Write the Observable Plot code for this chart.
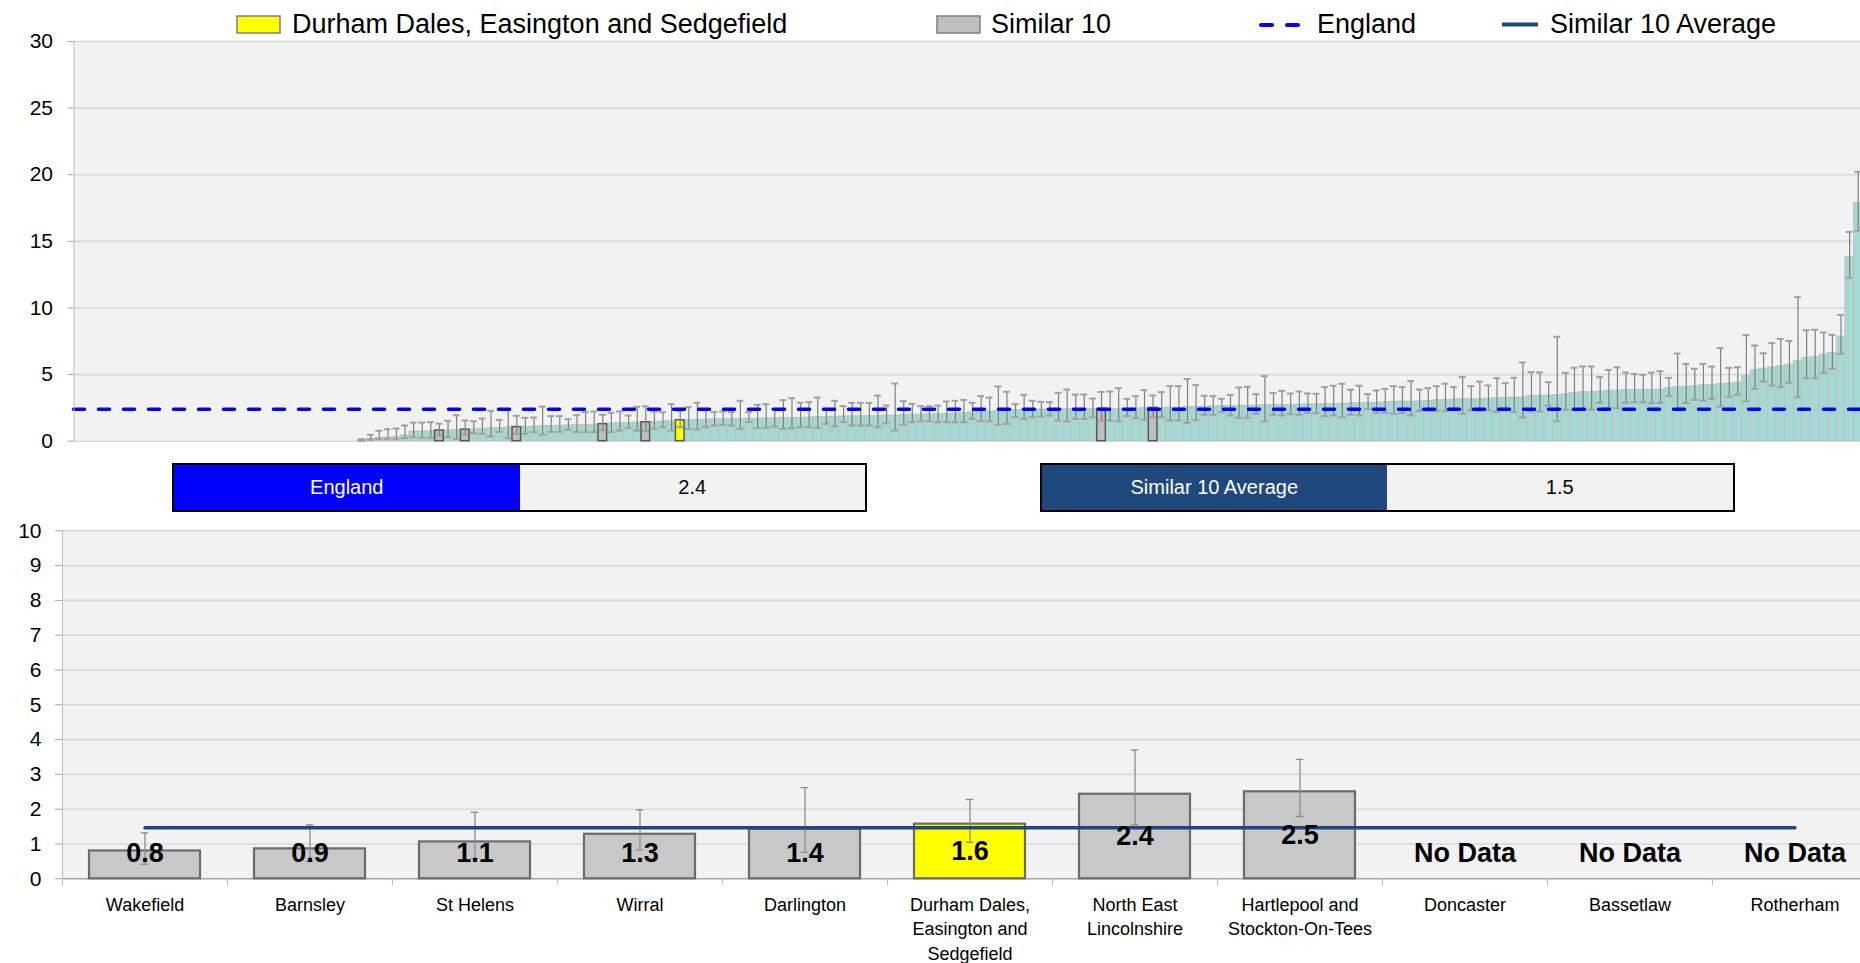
<!DOCTYPE html>
<html>
<head>
<meta charset="utf-8">
<script src="https://cdn.jsdelivr.net/npm/d3@7"></script>
<script src="https://cdn.jsdelivr.net/npm/@observablehq/plot@0.6"></script>
<style>
html, body { margin:0; padding:0; background:#fff; overflow:hidden; width:1860px; height:963px; }
body { position:relative; font-family:"Liberation Sans", Arial, sans-serif; }
#legend { position:absolute; left:0; top:0; }
#top { position:absolute; left:0; top:29px; width:1900px; }
#bottom { position:absolute; left:0; top:518px; width:1900px; }
#top svg, #bottom svg { max-width:none !important; }
.stat { position:absolute; box-sizing:border-box; border:2.7px solid #000; display:flex; background:#f2f2f2; }
.stat div { flex:1; display:flex; align-items:center; justify-content:center; font-size:20px; }
.stat .lab { color:#fff; }
</style>
</head>
<body>
<svg id="legend" width="1860" height="44"></svg>
<div id="top"></div>
<div class="stat" style="left:172px; top:462.5px; width:695px; height:49.5px;">
  <div class="lab" id="engLab" style="background:#0000ff;"></div><div id="engVal"></div>
</div>
<div class="stat" style="left:1039.5px; top:462.5px; width:695px; height:49.5px;">
  <div class="lab" id="avgLab" style="background:#1f497d;"></div><div id="avgVal"></div>
</div>
<div id="bottom"></div>
<script>
// ---------------- DATA ----------------
// All CCGs ranked by value (those with no data occupy the left of the ranking)
const noDataCount = 33;
const ccgRate = [
  0.1,0.18,0.25,0.28,0.3,0.43,0.73,0.73,0.74,0.8,
  0.81,0.83,0.86,0.88,0.93,0.98,1.0,1.03,1.06,1.08,1.1,1.13,1.15,1.16,1.18,1.2,1.23,1.25,1.28,
  1.33,1.36,1.38,1.4,1.42,1.45,1.48,1.52,1.57,1.58,1.6,1.62,1.65,1.66,1.67,1.68,1.7,1.7,1.72,1.73,1.74,1.75,1.76,1.78,1.8,1.82,1.84,1.86,1.87,
  1.88,1.88,1.9,1.93,1.93,1.98,2.0,2.0,2.01,2.03,2.05,2.08,2.1,2.18,2.2,2.23,2.25,2.28,2.33,2.35,2.36,2.38,2.4,2.4,2.41,2.42,2.42,2.43,2.43,
  2.44,2.44,2.45,2.46,2.48,2.5,2.5,2.53,2.53,2.55,2.58,2.6,2.62,2.63,2.65,2.65,2.67,2.68,2.7,2.72,2.73,2.74,2.75,2.76,2.77,2.78,2.8,2.82,2.84,
  2.85,2.88,2.9,2.93,2.96,2.98,2.98,3.0,3.03,3.08,3.1,3.13,3.16,3.16,3.18,3.2,3.23,3.26,3.28,3.28,3.41,3.41,3.43,3.46,3.53,3.63,3.68,3.68,3.73,
  3.8,3.8,3.85,3.85,3.85,3.85,3.88,4.0,4.05,4.1,4.13,4.2,4.23,4.3,4.33,4.4,4.9,5.33,5.45,5.55,5.63,5.75,6.05,6.26,6.33,6.51,6.63,7.86,13.84,17.89
];
const ccgLower = [
  0.03,0.1,0.18,0.18,0.18,0.23,0.3,0.25,0.25,0.42,
  0.3,0.18,0.5,0.6,0.55,0.35,0.7,0.23,0.55,0.55,0.68,0.48,0.7,0.7,0.86,0.68,0.68,0.68,0.83,
  0.68,0.8,1.0,0.8,0.76,0.93,1.05,0.8,1.05,0.93,0.88,1.05,1.18,1.23,1.18,0.93,1.43,1.0,1.0,1.1,0.93,0.98,1.05,1.05,1.0,1.3,1.1,1.43,1.18,
  1.18,1.18,1.05,1.35,0.8,1.25,1.43,1.5,1.5,1.43,1.43,1.43,1.43,1.68,1.5,1.5,1.23,1.3,1.8,1.68,1.8,1.85,1.93,1.55,1.48,1.68,1.68,1.8,1.55,
  1.55,1.48,1.88,1.73,1.63,1.79,1.8,1.55,1.55,1.38,1.58,1.98,1.98,2.18,1.93,1.75,1.75,2.05,1.48,1.98,1.93,2.03,1.98,2.13,2.1,1.88,1.93,1.8,1.98,
  1.93,2.43,2.13,2.13,2.06,2.11,1.93,2.26,2.26,2.26,2.26,2.43,2.06,2.31,2.26,2.31,2.2,2.43,2.2,1.78,2.23,2.23,2.66,1.5,2.36,2.36,2.36,2.36,2.88,
  2.5,2.48,2.88,2.93,2.93,2.85,2.88,3.4,2.43,2.88,3.1,3.05,3.18,2.6,3.35,3.48,3.0,3.93,4.48,4.18,4.05,4.38,3.3,4.73,4.73,5.13,5.43,6.56,12.26,15.79
];
const ccgUpper = [
  0.15,0.48,0.78,0.9,0.95,1.18,1.4,1.4,1.43,1.32,
  1.53,1.95,1.55,1.5,1.7,2.28,1.6,2.38,1.91,1.75,1.78,2.6,1.88,1.88,1.65,1.95,2.18,2.23,1.98,
  2.13,2.23,1.93,2.58,2.62,2.23,2.18,2.78,2.28,2.55,2.88,2.35,2.18,2.23,2.18,3.03,2.18,2.73,2.78,2.43,3.08,3.23,2.88,2.93,3.28,2.43,3.03,2.63,2.88,
  2.88,2.88,3.43,2.68,4.33,3.0,2.8,2.63,2.63,2.68,2.98,3.03,3.1,2.88,3.38,3.28,4.11,3.71,2.78,3.48,3.03,2.95,2.93,3.63,3.88,3.5,3.5,3.2,3.70,
  3.73,3.98,3.18,3.38,3.83,3.43,3.68,4.13,4.13,4.66,4.21,3.41,3.38,3.18,3.48,4.03,4.08,3.53,4.88,3.61,3.78,3.58,3.73,3.58,3.56,4.06,4.16,4.31,3.86,
  4.16,3.53,3.81,3.93,4.13,4.06,4.51,3.88,3.98,4.13,4.31,4.06,4.81,4.13,4.48,4.18,4.73,4.36,4.76,5.91,5.18,5.16,4.43,7.84,5.13,5.51,5.61,5.61,4.81,
  5.35,5.55,5.15,5.05,4.98,5.15,5.25,4.75,6.58,5.8,5.43,5.8,5.6,6.98,5.5,5.55,7.96,7.18,6.6,7.36,7.68,7.53,10.81,8.33,8.36,8.16,7.98,9.48,15.71,20.22
];
const englandValue = 2.4;
const similarAverage = 1.47;
const focusName = "Durham Dales, Easington and Sedgefield";
const similarNames = ["Wakefield","Barnsley","St Helens","Wirral","Darlington",
  "Durham Dales, Easington and Sedgefield","North East Lincolnshire",
  "Hartlepool and Stockton-On-Tees","Doncaster","Bassetlaw","Rotherham"];
const similarLabels = ["Wakefield","Barnsley","St Helens","Wirral","Darlington",
  "Durham Dales,\nEasington and\nSedgefield","North East\nLincolnshire",
  "Hartlepool and\nStockton-On-Tees","Doncaster","Bassetlaw","Rotherham"];
const similarValues = [0.8,0.86,1.06,1.28,1.42,1.57,2.43,2.5,null,null,null];
const similarLower  = [0.42,0.5,0.58,0.83,0.76,1.05,1.55,1.79,null,null,null];
const similarUpper  = [1.32,1.55,1.91,1.98,2.62,2.28,3.70,3.43,null,null,null];
const similarRank   = [9,12,18,28,33,37,86,92,null,null,null]; // rank among CCGs with data
const topTicks = [0,5,10,15,20,25,30];
const bottomTicks = [0,1,2,3,4,5,6,7,8,9,10];
const legendItems = [
  {label: focusName, kind: "focus"},
  {label: "Similar 10", kind: "similar"},
  {label: "England", kind: "england"},
  {label: "Similar 10 Average", kind: "average"}
];

// ---------------- STYLE ----------------
const FONT = '"Liberation Sans", Arial, sans-serif';
const C = {bg:"#f2f2f2", grid:"#d9d9d9", axis:"#a6a6a6", teal:"#a6d8d2", grey:"#c8c8c8",
           yellow:"#ffff00", england:"#0000ff", avg:"#1f497d"};

// ---------------- LEGEND ----------------
{
  const svg = d3.select("#legend");
  const xs = [237, 937, 1261, 1502];
  const tx = [292, 991, 1317, 1550];
  legendItems.forEach((it, i) => {
    if (it.kind === "focus" || it.kind === "similar") {
      svg.append("rect").attr("x", xs[i]).attr("y", 16).attr("width", 43).attr("height", 17)
        .attr("fill", it.kind === "focus" ? C.yellow : "#bfbfbf").attr("stroke", "#7f7f7f").attr("stroke-width", 1.5);
    } else if (it.kind === "england") {
      svg.append("line").attr("x1", xs[i]).attr("x2", xs[i] + 37).attr("y1", 25).attr("y2", 25)
        .attr("stroke", C.england).attr("stroke-width", 4).attr("stroke-dasharray", "11,15").attr("stroke-linecap", "round");
    } else {
      svg.append("line").attr("x1", xs[i]).attr("x2", xs[i] + 36).attr("y1", 24.5).attr("y2", 24.5)
        .attr("stroke", C.avg).attr("stroke-width", 4);
    }
    svg.append("text").attr("x", tx[i]).attr("y", 33).attr("font-size", 27)
      .attr("font-family", FONT).attr("fill", "#000").text(it.label);
  });
}

// ---------------- STAT BOXES ----------------
document.getElementById("engLab").textContent = "England";
document.getElementById("engVal").textContent = englandValue.toFixed(1);
document.getElementById("avgLab").textContent = "Similar 10 Average";
document.getElementById("avgVal").textContent = similarAverage.toFixed(1);

// ---------------- TOP CHART ----------------
const N = noDataCount + ccgRate.length;
const topData = ccgRate.map((v, i) => ({pos: noDataCount + i, v, lo: ccgLower[i], hi: ccgUpper[i]}));
const hl = similarNames.map((name, i) => ({name, r: similarRank[i], v: similarValues[i],
    lo: similarLower[i], hi: similarUpper[i]}))
  .filter(d => d.v != null && d.r != null)
  .map(d => ({...d, pos: noDataCount + d.r}));

const topPlot = Plot.plot({
  width: 1862, height: 424,
  marginTop: 12, marginBottom: 12.3, marginLeft: 73.5, marginRight: 0,
  style: {fontFamily: FONT, fontSize: "21px", color: "#000", background: "transparent", overflow: "visible", maxWidth: "none"},
  x: {type: "band", domain: d3.range(N), padding: 0, axis: null, label: null},
  y: {domain: [0, 30], axis: null, label: null},
  marks: [
    Plot.frame({fill: C.bg, stroke: null}),
    Plot.gridY(topTicks, {stroke: C.grid, strokeOpacity: 1, strokeWidth: 1.6}),
    Plot.barY(topData, {x: "pos", y: "v", fill: C.teal, stroke: "#bdbdbd", strokeWidth: 0.7}),
    Plot.barY(hl, {x: "pos", y: "v", fill: d => d.name === focusName ? C.yellow : "#bfbfbf",
      stroke: "#595959", strokeWidth: 1.5}),
    Plot.ruleX(topData, {x: "pos", y1: "lo", y2: "hi", stroke: "#7f7f7f", strokeWidth: 1.2}),
    Plot.tickY(topData, {x: "pos", y: "hi", stroke: "#a0a0a0", strokeWidth: 2, insetLeft: 0.9, insetRight: 0.9}),
    Plot.tickY(topData, {x: "pos", y: "lo", stroke: "#a0a0a0", strokeWidth: 2, insetLeft: 0.9, insetRight: 0.9}),
    Plot.ruleY([englandValue], {stroke: C.england, strokeWidth: 3.5, strokeDasharray: "11,14", strokeLinecap: "round"}),
    Plot.axisY(topTicks, {tickSize: 6, tickPadding: 15, stroke: C.axis, fontSize: 21, fill: "#000", label: null}),
    Plot.frame({anchor: "left", stroke: "#bfbfbf"})
  ]
});
document.getElementById("top").append(topPlot);

// ---------------- BOTTOM CHART ----------------
const lowData = similarNames.map((name, i) => ({name, label: similarLabels[i], v: similarValues[i],
  lo: similarLower[i], hi: similarUpper[i]}));
const withData = lowData.filter(d => d.v != null);
const bW = 1877, bML = 62;
const step = (bW - bML) / similarNames.length;
const capInset = (step * 0.67 - 7) / 2;

const bottomPlot = Plot.plot({
  width: bW, height: 445,
  marginTop: 12.3, marginBottom: 84.7, marginLeft: bML, marginRight: 0,
  style: {fontFamily: FONT, fontSize: "18px", color: "#000", background: "transparent", overflow: "visible", maxWidth: "none"},
  x: {type: "band", domain: similarNames, paddingInner: 0.33, paddingOuter: 0.165, axis: null, label: null},
  y: {domain: [0, 10], axis: null, label: null},
  marks: [
    Plot.frame({fill: C.bg, stroke: null}),
    Plot.gridY(bottomTicks.slice(1), {stroke: C.grid, strokeOpacity: 1, strokeWidth: 1.6}),
    Plot.ruleY([0], {stroke: C.axis, strokeWidth: 1.5}),
    Plot.barY(withData, {x: "name", y: "v", fill: d => d.name === focusName ? C.yellow : C.grey,
      stroke: "#6b6b6b", strokeWidth: 2.2}),
    Plot.ruleX(withData, {x: "name", y1: "lo", y2: "hi", stroke: "#8c8c8c", strokeWidth: 1.3}),
    Plot.tickY(withData, {x: "name", y: "hi", stroke: "#8c8c8c", strokeWidth: 1.3, insetLeft: capInset, insetRight: capInset}),
    Plot.tickY(withData, {x: "name", y: "lo", stroke: "#8c8c8c", strokeWidth: 1.3, insetLeft: capInset, insetRight: capInset}),
    Plot.lineY(lowData, {x: "name", y: () => similarAverage, stroke: C.avg, strokeWidth: 3.5}),
    Plot.text(lowData, {x: "name", y: d => d.v == null ? 0.73 : Math.max(d.v / 2, 0.73),
      text: d => d.v == null ? "No Data" : d.v.toFixed(1), fontWeight: "bold", fontSize: 27, fill: "#000"}),
    Plot.axisY(bottomTicks, {tickSize: 7, tickPadding: 14, stroke: C.axis, fontSize: 21, fill: "#000", label: null}),
    Plot.axisX(similarNames, {tickSize: 0, tickPadding: 15, fontSize: 18, lineHeight: 1.35, fill: "#000", label: null,
      tickFormat: d => similarLabels[similarNames.indexOf(d)]}),
    Plot.ruleX(similarNames, {x: d => d, dx: -step / 2, y1: 0, y2: -0.2, stroke: "#bfbfbf", strokeWidth: 1.2}),
    Plot.frame({anchor: "left", stroke: "#bfbfbf"})
  ]
});
document.getElementById("bottom").append(bottomPlot);
</script>
</body>
</html>
